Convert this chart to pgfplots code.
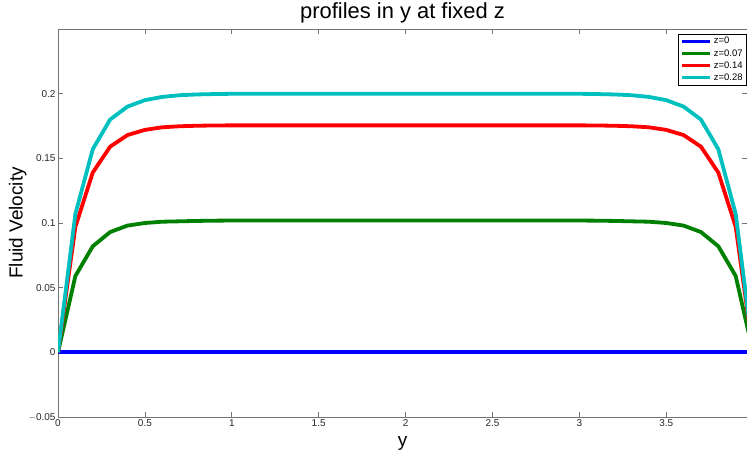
\documentclass[border=0pt]{standalone}
\usepackage{fontspec}
\setmainfont{Liberation Sans}
\usepackage{pgfplots}
\usepackage{pgfplotstable}
\pgfplotsset{compat=1.18}
\definecolor{mgreen}{rgb}{0,0.5,0}
\definecolor{mcyan}{rgb}{0,0.75,0.75}
\pgfplotstableread{
x g r c
0.0 0 0 0
0.1 0.059 0.097 0.107
0.2 0.082 0.139 0.157
0.3 0.093 0.159 0.180
0.4 0.098 0.168 0.190
0.5 0.100 0.172 0.195
0.6 0.101 0.174 0.1975
0.7 0.1013 0.1748 0.1988
0.8 0.1016 0.1752 0.1994
0.9 0.1018 0.1754 0.1997
1.0 0.1019 0.1755 0.1999
1.1 0.102 0.1755 0.2
1.2 0.102 0.1755 0.2
1.3 0.102 0.1755 0.2
1.4 0.102 0.1755 0.2
1.5 0.102 0.1755 0.2
1.6 0.102 0.1755 0.2
1.7 0.102 0.1755 0.2
1.8 0.102 0.1755 0.2
1.9 0.102 0.1755 0.2
2.0 0.102 0.1755 0.2
2.1 0.102 0.1755 0.2
2.2 0.102 0.1755 0.2
2.3 0.102 0.1755 0.2
2.4 0.102 0.1755 0.2
2.5 0.102 0.1755 0.2
2.6 0.102 0.1755 0.2
2.7 0.102 0.1755 0.2
2.8 0.102 0.1755 0.2
2.9 0.102 0.1755 0.2
3.0 0.1019 0.1755 0.1999
3.1 0.1018 0.1754 0.1997
3.2 0.1016 0.1752 0.1994
3.3 0.1013 0.1748 0.1988
3.4 0.101 0.174 0.1975
3.5 0.100 0.172 0.195
3.6 0.098 0.168 0.190
3.7 0.093 0.159 0.180
3.8 0.082 0.139 0.157
3.9 0.059 0.097 0.107
4.0 0 0 0
}\prof
\begin{document}
\begin{tikzpicture}
\begin{axis}[
  scale only axis,
  width=689bp, height=388bp,
  xmin=0, xmax=3.965,
  ymin=-0.05, ymax=0.25,
  xtick={0,0.5,1,1.5,2,2.5,3,3.5},
  xticklabels={0,0.5,1,1.5,2,2.5,3,3.5},
  ytick={-0.05,0,0.05,0.1,0.15,0.2},
  yticklabels={$-$0.05,0,0.05,0.1,0.15,0.2},
  tick pos=both,
  tick align=inside,
  major tick length=5bp,
  axis line style={draw=black!55, line width=0.8pt},
  every tick/.style={black!55, line width=0.6pt},
  tick label style={font=\fontsize{10}{11}\selectfont, text=black!85},
  xticklabel style={yshift=1bp},
  yticklabel style={xshift=1bp},
  xlabel={y},
  ylabel={Fluid Velocity},
  xlabel style={font=\fontsize{19}{21}\selectfont, yshift=-3bp},
  ylabel style={font=\fontsize{19}{21}\selectfont, yshift=-5bp},
  title={profiles in y at fixed z},
  title style={font=\fontsize{22}{25}\selectfont, yshift=-4bp},
  legend style={at={(0.999,0.988)}, anchor=north east, draw=black,
    font=\fontsize{9.5}{10}\selectfont, inner sep=1.5pt, row sep=0pt,
    cells={anchor=west}},
  legend image code/.code={\draw[#1, line width=3.5bp] (0cm,0cm) -- (1.0cm,0cm);},
  clip=true,
]
\addplot[blue, line width=3.8bp] table[x=x, y expr=0] {\prof};
\addplot[mgreen, line width=3.8bp] table[x=x, y=g] {\prof};
\addplot[red, line width=3.8bp] table[x=x, y=r] {\prof};
\addplot[mcyan, line width=3.8bp] table[x=x, y=c] {\prof};
\legend{z=0, z=0.07, z=0.14, z=0.28}
\end{axis}
\pgfresetboundingbox
\path ([shift={(-58bp,-38bp)}]current axis.south west) rectangle ([shift={(0bp,29bp)}]current axis.north east);
\end{tikzpicture}
\end{document}
